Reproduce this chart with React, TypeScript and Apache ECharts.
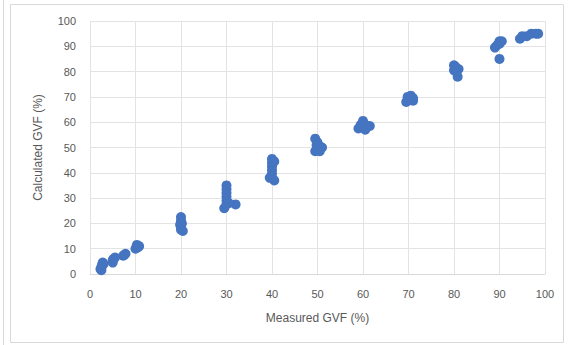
import React, { useEffect, useRef } from "react";
import * as echarts from "echarts";

const measured = [
  2.5, 2.5, 2.6, 2.8, 2.3, 3.0,
  5.0, 5.2, 5.0, 5.5,
  7.5, 7.8, 7.3,
  10.0, 10.3, 10.5, 10.8,
  20.0, 20.0, 19.8, 20.0, 20.0, 20.4, 20.2,
  29.5, 30.0, 30.0, 30.0, 30.0, 30.0, 30.0, 32.0, 30.5,
  39.5, 40.0, 40.0, 40.0, 40.0, 40.0, 40.5, 40.5,
  49.5, 50.0, 50.5, 51.0, 49.5, 50.0, 50.5, 49.8,
  59.0, 60.0, 60.5, 61.0, 61.5, 60.5, 59.5,
  69.5, 70.0, 70.5, 71.0, 71.0, 69.8,
  80.0, 80.5, 81.0, 80.0, 80.8, 80.3,
  89.0, 89.5, 90.0, 90.5, 90.0, 90.0,
  94.5, 95.0, 96.0, 97.0, 98.0, 98.5,
];
const calculated = [
  1.5, 2.5, 3.5, 4.5, 2.0, 4.0,
  4.5, 6.0, 5.5, 6.5,
  7.5, 8.0, 7.2,
  10.0, 11.5, 10.5, 11.0,
  17.5, 18.5, 19.5, 21.0, 22.5, 17.0, 20.0,
  26.0, 27.5, 29.0, 30.5, 32.0, 33.5, 35.0, 27.5, 28.0,
  38.0, 39.5, 41.0, 42.5, 44.0, 45.5, 37.0, 44.5,
  48.5, 49.5, 50.5, 50.0, 53.5, 52.0, 48.5, 51.0,
  57.5, 60.5, 59.0, 58.5, 58.5, 57.0, 59.0,
  68.0, 69.5, 70.5, 69.5, 68.5, 70.0,
  82.5, 81.0, 81.0, 80.5, 78.0, 82.0,
  89.5, 90.5, 92.0, 92.0, 91.0, 85.0,
  93.0, 94.0, 94.0, 95.0, 95.0, 95.0,
];

const xName = "Measured GVF (%)";
const yName = "Calculated GVF (%)";

export default function App() {
  const ref = useRef<HTMLDivElement>(null);
  useEffect(() => {
    const chart = echarts.init(ref.current!, null, { renderer: "svg" });
    const font = "Liberation Sans, Arial, sans-serif";
    const labelColor = "#595959";
    chart.setOption({
      animation: false,
      backgroundColor: "#ffffff",
      grid: { left: 90, right: 25, top: 21, bottom: 71 },
      graphic: [
        {
          type: "rect",
          shape: { x: 10.5, y: 4.5, width: 553, height: 338 },
          style: { fill: "none", stroke: "#d9d9d9", lineWidth: 1 },
        },
        {
          type: "line",
          shape: { x1: 3.5, y1: 0, x2: 3.5, y2: 345 },
          style: { stroke: "#d9d9d9", lineWidth: 1 },
        },
      ],
      xAxis: {
        type: "value",
        min: 0,
        max: 100,
        interval: 10,
        name: xName,
        nameLocation: "middle",
        nameGap: 38,
        nameTextStyle: { color: labelColor, fontSize: 12, fontFamily: font },
        axisLine: { show: true, lineStyle: { color: "#d9d9d9" } },
        axisTick: { show: false },
        axisLabel: { color: labelColor, fontSize: 11, fontFamily: font, margin: 14 },
        splitLine: { show: true, lineStyle: { color: "#e3e3e3" } },
      },
      yAxis: {
        type: "value",
        min: 0,
        max: 100,
        interval: 10,
        name: yName,
        nameLocation: "middle",
        nameGap: 46,
        nameTextStyle: { color: labelColor, fontSize: 12, fontFamily: font },
        axisLine: { show: false },
        axisTick: { show: false },
        axisLabel: { color: labelColor, fontSize: 11, fontFamily: font, margin: 14 },
        splitLine: { show: true, lineStyle: { color: "#e3e3e3" } },
      },
      series: [
        {
          type: "scatter",
          symbol: "circle",
          symbolSize: 10,
          itemStyle: { color: "#4575c0", opacity: 1 },
          data: measured.map((x, i) => [x, calculated[i]]),
        },
      ],
    });
    return () => chart.dispose();
  }, []);
  return (
    <div
      ref={ref}
      style={{ position: "fixed", left: 0, top: 0, width: 570, height: 345, background: "#fff" }}
    />
  );
}
